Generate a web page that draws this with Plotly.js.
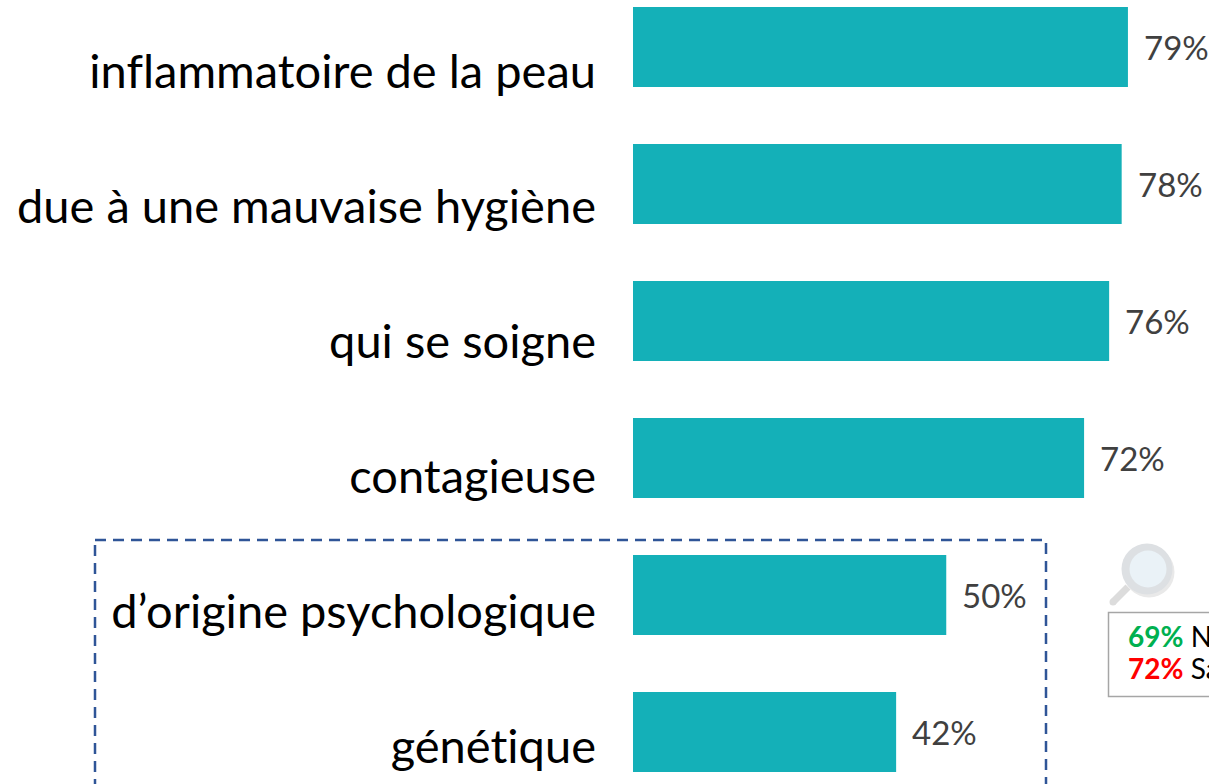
<!DOCTYPE html>
<html><head><meta charset="utf-8">
<script src="https://cdn.plot.ly/plotly-3.0.1.min.js"></script>
<style>html,body{margin:0;padding:0;background:#fff;overflow:hidden}
svg text{font-variant-ligatures:none;font-feature-settings:"liga" 0,"clig" 0;letter-spacing:0.01px}</style></head>
<body><div id="chart" style="width:1209px;height:784px"></div>
<script>
const categories = ["inflammatoire de la peau","due à une mauvaise hygiène","qui se soigne","contagieuse","d’origine psychologique","génétique"];
const values = [79,78,76,72,50,42];
const noteValues = ["69%","72%"];
const noteLabels = ["N","Sa"];
const noteColors = ["#00B050","#FF0000"];
const W=1209,H=784;
const px=x=>x/W, py=y=>1-y/H;
const circle=(cx,cy,r,fill)=>({type:'circle',xref:'paper',yref:'paper',x0:px(cx-r),x1:px(cx+r),y0:py(cy+r),y1:py(cy-r),fillcolor:fill,line:{width:0},layer:'above'});
const shapes=[
 {type:'rect',xref:'paper',yref:'paper',x0:px(95),x1:px(1046),y0:py(540),y1:py(830),line:{color:'#2F5597',width:2.5,dash:'11px 7px'},fillcolor:'rgba(0,0,0,0)',layer:'below'},
 {type:'rect',xref:'paper',yref:'paper',x0:px(1108.5),x1:px(1260),y0:py(612.5),y1:py(696.5),line:{color:'#A6A6A6',width:1.5},fillcolor:'#fff'},
 {type:'line',xref:'paper',yref:'paper',x0:px(1128),y0:py(587),x1:px(1113),y1:py(602),line:{color:'#DCDCDC',width:7}},
 circle(1113,602,3.5,'#DCDCDC'),
 circle(1149,572,25.5,'#E9E9E9'),
 circle(1147,569,25.5,'#DDE0E3'),
 circle(1148,569,18.5,'#EAF2F7')
];
const annotations=values.map((v,i)=>({xref:'x',yref:'y',x:v,y:categories[i],text:v+'%',showarrow:false,xanchor:'left',xshift:14,
  font:{family:'Lato',size:33,color:'#404040'}}));
noteValues.forEach((t,i)=>annotations.push({xref:'paper',yref:'paper',x:px(1126),y:py(635.5+i*32),xanchor:'left',yanchor:'middle',showarrow:false,
  text:'<b style="color:'+noteColors[i]+'">'+t+'</b> '+noteLabels[i],font:{family:'Lato',size:28,color:'#000'}}));
const bars={type:'bar',orientation:'h',x:values,y:categories,width:0.584,marker:{color:'#14B0B8'},hoverinfo:'skip'};
const labelCarrier={type:'bar',orientation:'h',x:values,y:categories,yaxis:'y2',opacity:0,marker:{color:'rgba(0,0,0,0)'},hoverinfo:'skip'};
const labelFont={family:'Lato',size:47,color:'#000'};
Plotly.newPlot('chart',[bars,labelCarrier],{
 width:W,height:H,margin:{l:0,r:0,t:0,b:0,pad:0},paper_bgcolor:'#fff',plot_bgcolor:'rgba(0,0,0,0)',showlegend:false,barmode:'overlay',
 xaxis:{domain:[633/W,1],range:[0,576/6.265],visible:false},
 yaxis:{type:'category',categoryorder:'array',categoryarray:categories,range:[(784-47)/137,-47/137],automargin:false,
   showline:false,showgrid:false,zeroline:false,ticks:'',showticklabels:false},
 yaxis2:{type:'category',overlaying:'y',side:'left',categoryorder:'array',categoryarray:categories,range:[(784-71.5)/135,-71.5/135],automargin:false,
   showline:false,showgrid:false,zeroline:false,ticks:'',ticklabelstandoff:36,tickfont:labelFont},
 shapes,annotations
},{displayModeBar:false,staticPlot:true});
</script></body></html>
